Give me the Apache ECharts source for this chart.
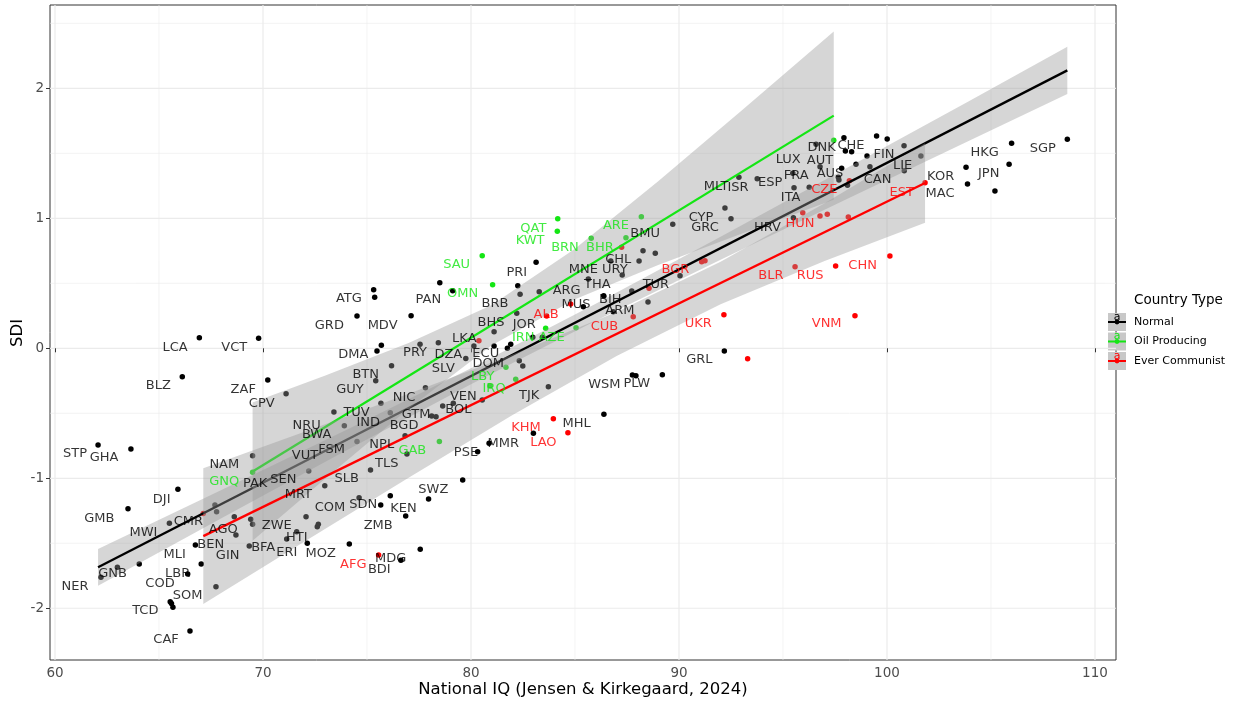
<!DOCTYPE html>
<html><head><meta charset="utf-8">
<script src="https://cdn.jsdelivr.net/npm/echarts@6/dist/echarts.min.js"></script>
<style>html,body{margin:0;padding:0;background:#fff}#c{width:1251px;height:702px}</style>
</head><body><div id="c"></div>
<script>
// ---------- DATA ----------
const xTicks = [60, 70, 80, 90, 100, 110];
const xMinorTicks = [65, 75, 85, 95, 105];
const yTicks = [-2, -1, 0, 1, 2];
const yMinorTicks = [-1.5, -0.5, 0.5, 1.5, 2.5];

// [National IQ, SDI]
const normalPts = [
 [66.94,0.082],[69.79,0.077],[66.12,-0.218],[62.07,-0.744],[63.65,-0.775],[69.50,-0.826],
 [65.91,-1.085],[63.51,-1.234],[65.50,-1.346],[64.05,-1.659],[63.00,-1.685],[62.21,-1.762],
 [66.75,-1.513],[67.03,-1.659],[66.38,-1.736],[65.54,-1.949],[65.60,-1.963],[65.67,-1.992],
 [66.49,-2.175],[68.70,-1.436],[69.34,-1.521],[67.74,-1.834],[68.62,-1.295],[67.69,-1.205],
 [67.77,-1.257],[69.41,-1.315],[69.50,-1.354],[72.20,-0.944],[75.17,-0.936],[72.97,-1.057],
 [72.07,-1.295],[74.62,-1.149],[75.66,-1.205],[76.86,-1.290],[76.12,-1.134],[77.96,-1.159],
 [72.61,-1.372],[72.66,-1.354],[71.62,-1.411],[71.14,-1.467],[72.13,-1.500],[74.15,-1.505],
 [76.63,-1.631],[77.56,-1.546],[79.60,-1.013],[80.32,-0.795],[80.87,-0.731],[83.00,-0.654],
 [86.39,-0.508],[87.76,-0.205],[87.93,-0.211],[89.20,-0.203],[92.18,-0.021],
 [75.37,0.392],[75.32,0.451],[78.50,0.505],[79.12,0.443],[77.12,0.251],[74.52,0.248],
 [75.48,-0.021],[75.69,0.023],[77.55,0.031],[76.18,-0.134],[75.42,-0.249],[70.23,-0.244],
 [71.11,-0.349],[77.81,-0.303],[75.67,-0.423],[76.12,-0.495],[76.83,-0.672],[73.41,-0.490],
 [73.91,-0.595],[74.52,-0.718],[78.11,-0.521],[78.32,-0.526],[78.64,-0.444],[79.15,-0.423],
 [80.54,-0.398],[76.92,-0.813],[78.43,0.043],[79.75,-0.078],[80.14,0.018],[81.11,0.128],
 [81.11,0.018],[81.91,0.031],[81.75,0.000],[82.32,-0.095],[82.49,-0.136],[82.97,0.085],
 [83.43,0.085],[83.72,-0.295],[82.20,0.269],[82.25,0.482],[82.36,0.415],[83.28,0.435],
 [83.13,0.662],[85.64,0.533],[86.38,0.405],[85.40,0.320],[86.84,0.282],[86.72,0.672],
 [87.27,0.564],[88.08,0.672],[88.27,0.751],[88.86,0.731],[89.70,0.954],[87.73,0.441],
 [88.51,0.356],[90.05,0.558],[92.21,1.079],[92.50,0.997],[92.88,1.315],[93.76,1.305],
 [95.47,1.346],[96.59,1.569],[96.78,1.397],[95.53,1.235],[96.26,1.238],[95.50,1.005],
 [97.93,1.620],[98.00,1.518],[98.30,1.512],[99.50,1.633],[100.01,1.610],[99.04,1.479],
 [98.51,1.415],[99.18,1.397],[97.66,1.315],[97.69,1.295],[97.82,1.385],[98.10,1.255],
 [100.82,1.558],[100.83,1.366],[101.63,1.479],[103.80,1.392],[103.87,1.264],[105.99,1.577],
 [105.87,1.415],[105.19,1.210],[108.67,1.608]
];
const oilPts = [
 [69.50,-0.954],[78.48,-0.718],[80.54,0.712],[81.04,0.489],[84.17,0.997],[84.15,0.900],
 [85.78,0.846],[88.19,1.012],[87.45,0.851],[83.59,0.154],[85.05,0.158],[81.68,-0.146],
 [82.15,-0.238],[80.91,-0.290],[97.44,1.600]
];
const commPts = [
 [67.13,-1.270],[75.56,-1.590],[83.96,-0.542],[84.66,-0.649],[80.38,0.058],[83.64,0.248],
 [84.79,0.341],[87.80,0.243],[88.56,0.462],[87.24,0.777],[91.09,0.666],[91.25,0.674],
 [92.16,0.258],[93.30,-0.080],[95.58,0.628],[97.53,0.633],[100.14,0.710],[98.46,0.251],
 [95.95,1.043],[96.78,1.018],[97.13,1.031],[98.14,1.010],[98.19,1.289],[101.83,1.274]
];

// fitted lines (lm) and their 95% bands: [IQ, lower, upper]
const normalFit = [[62.07,-1.685],[108.67,2.138]];
const oilFit = [[69.50,-0.948],[97.44,1.790]];
const commFit = [[67.13,-1.445],[101.83,1.272]];
const normalBand = [[62.07,-1.826,-1.544],[68,-1.307,-1.091],[74,-0.786,-0.628],[80,-0.276,-0.154],
 [86,0.212,0.342],[92,0.682,0.858],[98,1.143,1.381],[104,1.601,1.907],[108.67,1.957,2.319]];
const oilBand = [[69.50,-1.481,-0.417],[73,-1.001,-0.209],[77,-0.466,0.040],[81,0.024,0.334],
 [85,0.377,0.765],[89,0.641,1.285],[93,0.882,1.828],[97.44,1.143,2.437]];
const commBand = [[67.13,-1.967,-0.923],[72,-1.486,-0.642],[77,-0.996,-0.350],[82,-0.514,-0.048],
 [87,-0.059,0.279],[92,0.338,0.666],[97,0.671,1.115],[101.83,0.965,1.577]];

// ---------- LABEL LAYOUT (repelled text positions, in data units) ----------
const normalLabels = [
 ['LCA',65.77,0.005],['VCT',68.62,0.005],['BLZ',64.97,-0.288],['ZAF',69.05,-0.315],['CPV',69.94,-0.423],
 ['STP',60.96,-0.813],['GHA',62.36,-0.842],['NAM',68.14,-0.898],['DJI',65.13,-1.162],['GMB',62.13,-1.308],
 ['CMR',66.41,-1.334],['MWI',64.25,-1.418],['BEN',67.49,-1.513],['MLI',65.75,-1.590],['GNB',62.77,-1.736],
 ['LBR',65.90,-1.731],['NER',60.96,-1.834],['COD',65.05,-1.808],['SOM',66.38,-1.905],['TCD',64.34,-2.018],
 ['CAF',65.34,-2.244],['AGO',68.09,-1.398],['GIN',68.30,-1.598],['BFA',70.01,-1.534],['PAK',69.62,-1.044],
 ['SEN',70.98,-1.013],['MRT',71.70,-1.123],['SLB',74.02,-1.005],['TLS',75.95,-0.890],['COM',73.22,-1.223],
 ['SDN',74.82,-1.205],['KEN',76.75,-1.231],['SWZ',78.19,-1.090],['ZMB',75.54,-1.365],['ZWE',70.66,-1.365],
 ['HTI',71.62,-1.454],['ERI',71.14,-1.572],['MOZ',72.77,-1.577],['MDG',76.14,-1.618],['BDI',75.59,-1.705],
 ['PSE',79.76,-0.803],['MMR',81.55,-0.731],['MHL',85.08,-0.577],['WSM',86.41,-0.282],['PLW',87.97,-0.275],
 ['GRL',90.98,-0.090],['ATG',74.13,0.379],['PAN',77.95,0.372],['GRD',73.19,0.174],['MDV',75.75,0.174],
 ['DMA',74.34,-0.052],['PRY',77.31,-0.031],['BTN',74.94,-0.205],['GUY',74.18,-0.321],['NIC',76.78,-0.377],
 ['TUV',74.50,-0.492],['GTM',77.36,-0.513],['NRU',72.10,-0.598],['IND',75.06,-0.572],['BGD',76.78,-0.595],
 ['BWA',72.58,-0.667],['FSM',73.30,-0.782],['VUT',72.02,-0.826],['NPL',75.71,-0.744],['LKA',79.68,0.077],
 ['DZA',78.91,-0.052],['SLV',78.67,-0.154],['ECU',80.71,-0.038],['DOM',80.83,-0.115],['VEN',79.63,-0.372],
 ['BOL',79.39,-0.469],['TJK',82.80,-0.365],['BRB',81.15,0.341],['BHS',80.96,0.197],['JOR',82.56,0.179],
 ['ARG',84.60,0.443],['MUS',85.05,0.333],['PRI',82.20,0.585],['MNE',85.40,0.608],['URY',86.92,0.602],
 ['THA',86.07,0.487],['CHL',87.08,0.679],['BMU',88.37,0.885],['BIH',86.70,0.372],['ARM',87.16,0.289],
 ['TUR',88.89,0.487],['MLT',91.78,1.243],['ISR',92.84,1.235],['ESP',94.38,1.274],['CYP',91.06,1.008],
 ['GRC',91.25,0.931],['HRV',94.25,0.931],['LUX',95.25,1.454],['AUT',96.78,1.446],['FRA',95.63,1.325],
 ['AUS',97.26,1.346],['ITA',95.37,1.162],['DNK',96.86,1.546],['CHE',98.27,1.558],['FIN',99.86,1.492],
 ['LIE',100.75,1.402],['CAN',99.55,1.300],['KOR',102.58,1.320],['MAC',102.55,1.192],['HKG',104.70,1.506],
 ['JPN',104.89,1.341],['SGP',107.49,1.538]
];
const oilLabels = [
 ['GNQ',68.14,-1.026],['SAU',79.31,0.641],['OMN',79.60,0.418],['QAT',83.00,0.923],['KWT',82.84,0.831],
 ['BRN',84.52,0.774],['BHR',86.20,0.774],['ARE',86.97,0.943],['IRN',82.51,0.085],['AZE',83.88,0.085],
 ['LBY',80.56,-0.218],['IRQ',81.11,-0.308],['GAB',77.18,-0.788]
];
const commLabels = [
 ['AFG',74.34,-1.662],['KHM',82.64,-0.611],['LAO',83.48,-0.723],['ALB',83.61,0.262],['CUB',86.42,0.169],
 ['UKR',90.93,0.189],['BGR',89.83,0.602],['BLR',94.42,0.558],['RUS',96.30,0.558],['CHN',98.83,0.635],
 ['VNM',97.10,0.187],['HUN',95.82,0.956],['CZE',96.99,1.218],['EST',100.71,1.197]
];

// ---------- CHART ----------
const FONT = 'DejaVu Sans';
const xMin = 59.76, xMax = 111.01, yMin = -2.398, yMax = 2.641;
const cBlack = '#000000', cGreen = '#14E614', cRed = '#FF0000';
const bandFill = 'rgba(153,153,153,0.4)';

const gridLines = [];
xTicks.forEach(v => gridLines.push(['x', v, 1.2]));
xMinorTicks.forEach(v => gridLines.push(['x', v, 0.6]));
yTicks.forEach(v => gridLines.push(['y', v, 1.2]));
yMinorTicks.forEach(v => gridLines.push(['y', v, 0.6]));

function bandSeries(band, z) {
  return {
    type: 'custom', z: z, silent: true, clip: true,
    data: [[band[0][0], band[0][1]]],
    renderItem: function (params, api) {
      const up = band.map(b => api.coord([b[0], b[2]]));
      const lo = band.slice().reverse().map(b => api.coord([b[0], b[1]]));
      return { type: 'polygon', shape: { points: up.concat(lo) }, style: { fill: bandFill } };
    }
  };
}
function lineSeries(fit, color, z) {
  return { type: 'line', z: z, data: fit, showSymbol: false, silent: true,
    lineStyle: { color: color, width: 2.3 } };
}
function pointSeries(pts, color) {
  return { type: 'scatter', z: 2, data: pts, symbolSize: 5.5, silent: true,
    itemStyle: { color: color, opacity: 1 } };
}
function labelSeries(labels, color) {
  return { type: 'scatter', z: 20, silent: true, symbolSize: 1,
    data: labels.map(l => [l[1], l[2], l[0]]),
    itemStyle: { color: 'rgba(0,0,0,0)' },
    label: { show: true, position: 'inside', formatter: p => p.value[2], color: color,
      fontSize: 13, fontFamily: FONT } };
}

const chart = echarts.init(document.getElementById('c'), null, { renderer: 'canvas' });
const legendItems = [['Normal', cBlack], ['Oil Producing', cGreen], ['Ever Communist', cRed]];
const legendGraphics = [
  { type: 'text', x: 1134, y: 300, style: { text: 'Country Type', font: '13.5px ' + FONT, fill: '#000',
    verticalAlign: 'middle' } }
];
legendItems.forEach((it, i) => {
  const cy = 322 + i * 19.5;
  legendGraphics.push({ type: 'rect', shape: { x: 1108, y: cy - 9, width: 18, height: 18 },
    style: { fill: '#C8C8C8' } });
  legendGraphics.push({ type: 'line', shape: { x1: 1108, y1: cy, x2: 1126, y2: cy },
    style: { stroke: it[1], lineWidth: 2 } });
  legendGraphics.push({ type: 'circle', shape: { cx: 1117, cy: cy, r: 2.4 }, style: { fill: it[1] } });
  legendGraphics.push({ type: 'text', x: 1117, y: cy - 5, style: { text: 'a', font: '11px ' + FONT,
    fill: it[1], align: 'center', verticalAlign: 'middle' } });
  legendGraphics.push({ type: 'text', x: 1134, y: cy, style: { text: it[0], font: '11px ' + FONT,
    fill: '#000', verticalAlign: 'middle' } });
});

chart.setOption({
  animation: false,
  backgroundColor: '#ffffff',
  grid: { left: 50, top: 5, width: 1066, height: 655, show: true, borderColor: '#333333',
    borderWidth: 1, backgroundColor: 'transparent' },
  xAxis: { type: 'value', min: xMin, max: xMax, splitLine: { show: false },
    axisLine: { show: false },
    axisTick: { show: true, customValues: xTicks, length: 4, lineStyle: { color: '#333333' } },
    axisLabel: { customValues: xTicks, color: '#4D4D4D', fontSize: 13.5, fontFamily: FONT, margin: 6,
      formatter: v => String(v) } },
  yAxis: { type: 'value', min: yMin, max: yMax, splitLine: { show: false },
    axisLine: { show: false },
    axisTick: { show: true, customValues: yTicks, length: 4, lineStyle: { color: '#333333' } },
    axisLabel: { customValues: yTicks, color: '#4D4D4D', fontSize: 13.5, fontFamily: FONT, margin: 6,
      formatter: v => String(v) } },
  graphic: [
    { type: 'text', x: 583, y: 690, style: { text: 'National IQ (Jensen & Kirkegaard, 2024)',
      font: '16.5px ' + FONT, fill: '#000', align: 'center', verticalAlign: 'middle' } },
    { type: 'text', x: 18, y: 333, rotation: Math.PI / 2, style: { text: 'SDI', font: '16.5px ' + FONT,
      fill: '#000', align: 'center', verticalAlign: 'middle' } }
  ].concat(legendGraphics),
  series: [
    { type: 'custom', z: 0, silent: true, data: gridLines.map(() => [xMin, yMin]),
      renderItem: function (params, api) {
        const g = gridLines[params.dataIndex];
        const p1 = g[0] === 'x' ? api.coord([g[1], yMin]) : api.coord([xMin, g[1]]);
        const p2 = g[0] === 'x' ? api.coord([g[1], yMax]) : api.coord([xMax, g[1]]);
        return { type: 'line', shape: { x1: p1[0], y1: p1[1], x2: p2[0], y2: p2[1] },
          style: { stroke: '#EBEBEB', lineWidth: g[2] } };
      } },
    pointSeries(normalPts, cBlack),
    pointSeries(oilPts, cGreen),
    pointSeries(commPts, cRed),
    bandSeries(normalBand, 3),
    lineSeries(normalFit, cBlack, 4),
    bandSeries(oilBand, 5),
    lineSeries(oilFit, cGreen, 6),
    bandSeries(commBand, 7),
    lineSeries(commFit, cRed, 8),
    labelSeries(normalLabels, cBlack),
    labelSeries(oilLabels, cGreen),
    labelSeries(commLabels, cRed)
  ]
});
</script></body></html>
